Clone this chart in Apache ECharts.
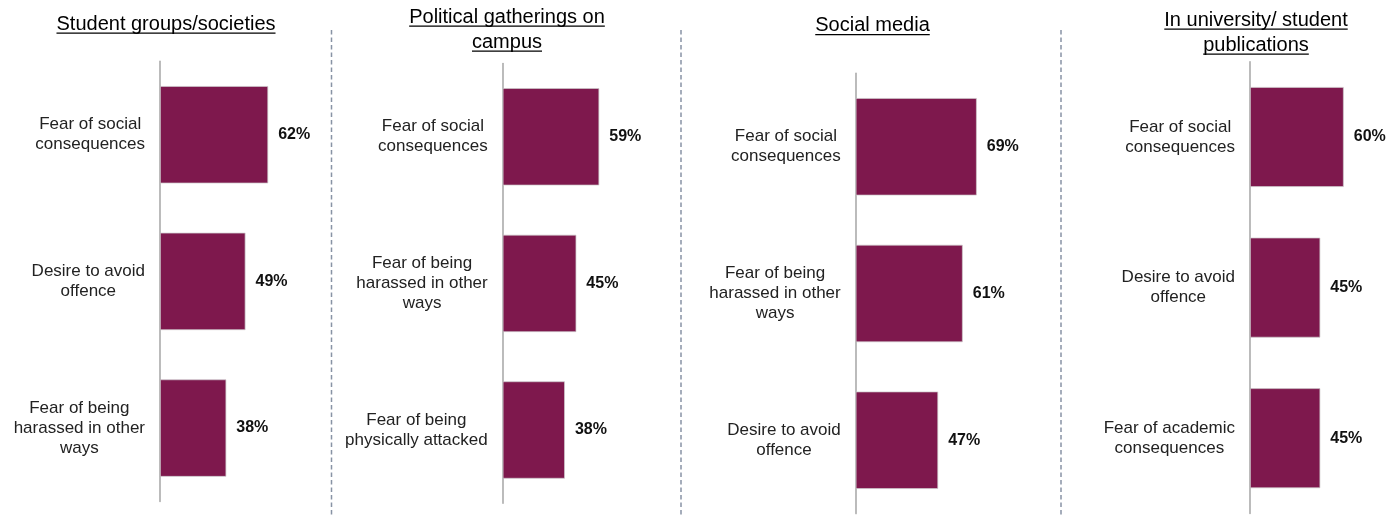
<!DOCTYPE html>
<html>
<head>
<meta charset="utf-8">
<title>Reasons for self-censorship by setting</title>
<script src="https://cdn.jsdelivr.net/npm/echarts@6/dist/echarts.min.js"></script>
<style>
  html, body { margin: 0; padding: 0; background: #fff; }
  #chart { width: 1400px; height: 515px; }
</style>
</head>
<body>
<div id="chart"></div>
<script>
// Panel titles (one entry per line)
const titleStudentGroups = ['Student groups/societies'];
const titlePolitical = ['Political gatherings on', 'campus'];
const titleSocialMedia = ['Social media'];
const titlePublications = ['In university/ student', 'publications'];

// Reasons and shares (%) for each setting, top to bottom
const catsStudentGroups = ['Fear of social\nconsequences', 'Desire to avoid\noffence', 'Fear of being\nharassed in other\nways'];
const valsStudentGroups = [62, 49, 38];

const catsPolitical = ['Fear of social\nconsequences', 'Fear of being\nharassed in other\nways', 'Fear of being\nphysically attacked'];
const valsPolitical = [59, 45, 38];

const catsSocialMedia = ['Fear of social\nconsequences', 'Fear of being\nharassed in other\nways', 'Desire to avoid\noffence'];
const valsSocialMedia = [69, 61, 47];

const catsPublications = ['Fear of social\nconsequences', 'Desire to avoid\noffence', 'Fear of academic\nconsequences'];
const valsPublications = [60, 45, 45];

const FONT = '"Liberation Sans", Arial, Helvetica, sans-serif';
const BAR_COLOR = '#7E184D';

// Each panel: plot box plus the value at its right edge (sets the bar scale)
const panels = [
  { titles: titleStudentGroups, titleX: 166, titleY: [24], cats: catsStudentGroups, vals: valsStudentGroups,
    grid: { left: 160, top: 61.4, height: 440, width: 174.5 }, xMax: 100 },
  { titles: titlePolitical, titleX: 507, titleY: [17, 42], cats: catsPolitical, vals: valsPolitical,
    grid: { left: 502.7, top: 63.5, height: 439.8, width: 163.7 }, xMax: 100 },
  { titles: titleSocialMedia, titleX: 872.5, titleY: [25.5], cats: catsSocialMedia, vals: valsSocialMedia,
    grid: { left: 855.7, top: 73.4, height: 440.2, width: 175.5 }, xMax: 100 },
  { titles: titlePublications, titleX: 1256, titleY: [20, 45], cats: catsPublications, vals: valsPublications,
    grid: { left: 1250, top: 61.7, height: 451.8, width: 140 }, xMax: 89.6 }
];

const chart = echarts.init(document.getElementById('chart'), null, { renderer: 'canvas' });

// Text width helper for the title underlines
const measureCtx = document.createElement('canvas').getContext('2d');
function textWidth(str, font) {
  measureCtx.font = font;
  return measureCtx.measureText(str).width;
}

const TITLE_SIZE = 20;
const titleFont = TITLE_SIZE + 'px ' + FONT;

const graphic = [];

// Titles with underline
panels.forEach(p => {
  p.titles.forEach((line, i) => {
    const y = p.titleY[i];
    graphic.push({
      type: 'text', x: p.titleX, y: y, silent: true,
      style: { text: line, font: titleFont, fill: '#000', align: 'center', verticalAlign: 'middle' }
    });
    const w = textWidth(line, titleFont);
    const uy = y + 9.2;
    graphic.push({
      type: 'line', silent: true,
      shape: { x1: p.titleX - w / 2, y1: uy, x2: p.titleX + w / 2, y2: uy },
      style: { stroke: '#000', lineWidth: 1.3 }
    });
  });
});

// Dashed separators between panels
[331.5, 681, 1061].forEach(x => {
  graphic.push({
    type: 'line', silent: true,
    shape: { x1: x, y1: 30, x2: x, y2: 515 },
    style: { stroke: '#8893A5', lineWidth: 1.5, lineDash: [4.5, 3] }
  });
});

const option = {
  backgroundColor: '#fff',
  animation: false,
  grid: panels.map(p => Object.assign({ containLabel: false, outerBoundsMode: 'none' }, p.grid)),
  xAxis: panels.map((p, i) => ({
    type: 'value', gridIndex: i, min: 0, max: p.xMax,
    show: false
  })),
  yAxis: panels.map((p, i) => ({
    type: 'category', gridIndex: i, inverse: true, data: p.cats,
    axisLine: { show: true, lineStyle: { color: '#ABABAB', width: 1.6 } },
    axisTick: { show: false },
    splitLine: { show: false },
    axisLabel: {
      interval: 0,
      margin: 15,
      formatter: v => v.split('\n').map(l => '{c|' + l + '}').join('\n'),
      rich: {
        c: { align: 'center', fontSize: 17, lineHeight: 20, fontFamily: FONT, color: '#222' }
      }
    }
  })),
  series: panels.map((p, i) => ({
    type: 'bar', xAxisIndex: i, yAxisIndex: i,
    data: p.vals,
    barCategoryGap: '33.6%',
    itemStyle: { color: BAR_COLOR, borderColor: 'rgba(205,200,203,0.9)', borderWidth: 0.8 },
    label: {
      show: true, position: 'right', distance: 10,
      formatter: '{c}%',
      fontFamily: FONT, fontSize: 16, fontWeight: 'bold', color: '#111'
    },
    silent: true
  })),
  graphic: graphic
};

chart.setOption(option);
</script>
</body>
</html>
